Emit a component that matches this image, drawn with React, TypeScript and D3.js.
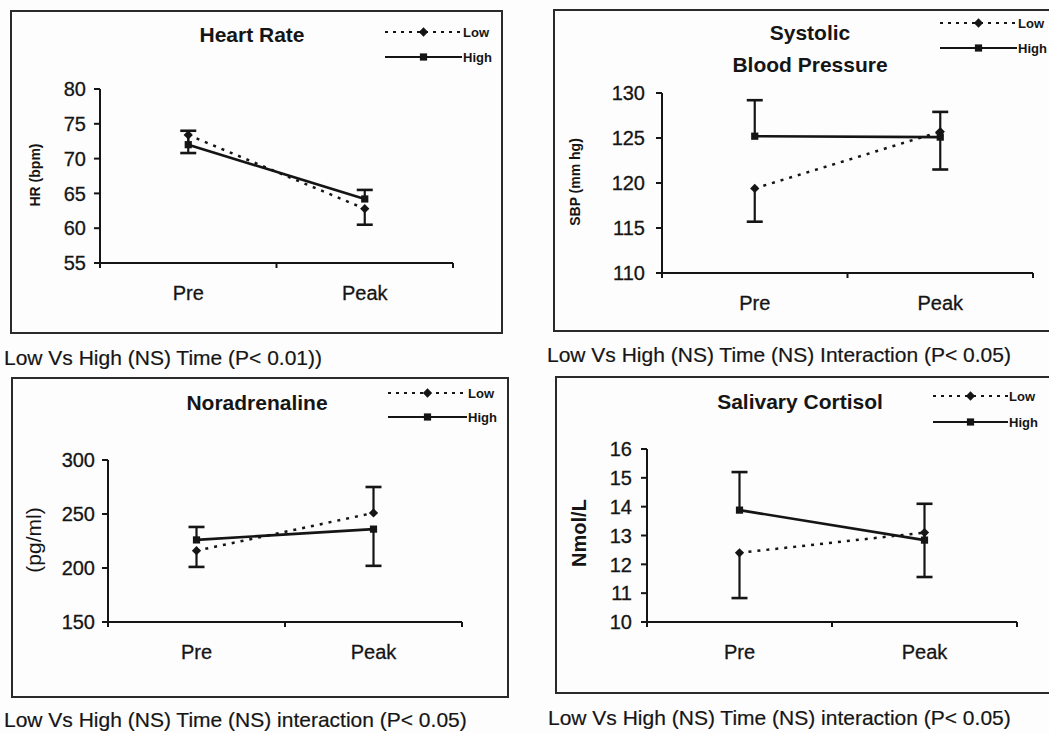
import * as d3 from "d3";
import React from "react";

const categories = ["Pre", "Peak"];

// Heart rate
const hrLow = [73.4, 62.8];
const hrHigh = [72.0, 64.2];
const hrLowErr = [-2.6, -2.3];
const hrHighErr = [2.0, 1.3];
const hrTicks = [55, 60, 65, 70, 75, 80];

// Systolic blood pressure
const sbpLow = [119.4, 125.7];
const sbpHigh = [125.2, 125.1];
const sbpLowErr = [-3.7, -4.2];
const sbpHighErr = [4.0, 2.8];
const sbpTicks = [110, 115, 120, 125, 130];

// Noradrenaline
const naLow = [216, 251];
const naHigh = [226, 236];
const naLowErr = [-15, 24];
const naHighErr = [12, -34];
const naTicks = [150, 200, 250, 300];

// Salivary cortisol
const cortLow = [12.4, 13.1];
const cortHigh = [13.88, 12.84];
const cortLowErr = [-1.57, -1.54];
const cortHighErr = [1.32, 1.26];
const cortTicks = [10, 11, 12, 13, 14, 15, 16];

const seriesNames = ["Low", "High"];

const FONT = "Arial, 'Liberation Sans', sans-serif";
const INK = "#151515";

type PanelProps = {
  box: [number, number, number, number];
  x0: number;
  x1: number;
  yTop: number;
  yBot: number;
  ticks: number[];
  low: number[];
  high: number[];
  lowErr: number[];
  highErr: number[];
  title: string[];
  titleX: number;
  titleY: number;
  titleGap?: number;
  legX0: number;
  legX1: number;
  legY: [number, number];
  yLabel: string;
  yLabelPos: [number, number];
  yLabelSize: number;
  yLabelBold: boolean;
  tickGap: number;
  note: string;
  notePos: [number, number];
};

function Panel(p: PanelProps) {
  const x = d3.scalePoint<string>().domain(categories).range([p.x0, p.x1]).padding(0.5);
  const y = d3
    .scaleLinear()
    .domain([p.ticks[0], p.ticks[p.ticks.length - 1]])
    .range([p.yBot, p.yTop]);

  const line = d3
    .line<number>()
    .x((_, i) => x(categories[i]) as number)
    .y((d) => y(d));

  const diamond = d3.symbol().type(d3.symbolDiamond2).size(55)();
  const square = d3.symbol().type(d3.symbolSquare).size(52)();
  const mid = (p.x0 + p.x1) / 2;
  const legMid = (p.legX0 + p.legX1) / 2;

  const errBars = (vals: number[], errs: number[], key: string) =>
    vals.map((v, i) => {
      const cx = x(categories[i]) as number;
      const ye = y(v + errs[i]);
      return (
        <g key={key + i} stroke={INK} strokeWidth={2.2}>
          <line x1={cx} x2={cx} y1={y(v)} y2={ye} />
          <line x1={cx - 8} x2={cx + 8} y1={ye} y2={ye} strokeWidth={2.6} />
        </g>
      );
    });

  return (
    <g fontFamily={FONT} fill={INK}>
      <rect
        x={p.box[0]}
        y={p.box[1]}
        width={p.box[2] - p.box[0]}
        height={p.box[3] - p.box[1]}
        fill="none"
        stroke="#2a2a2a"
        strokeWidth={2}
      />
      {p.title.map((t, i) => (
        <text
          key={t}
          x={p.titleX}
          y={p.titleY + i * (p.titleGap || 0)}
          textAnchor="middle"
          fontSize={21}
          fontWeight="bold"
        >
          {t}
        </text>
      ))}
      {/* legend */}
      <g>
        <line x1={p.legX0} x2={p.legX1} y1={p.legY[0]} y2={p.legY[0]} stroke={INK} strokeWidth={2} strokeDasharray="3,5" />
        <path d={diamond} transform={`translate(${legMid},${p.legY[0]})`} fill={INK} />
        <text x={p.legX1 + 1} y={p.legY[0]} dy="0.35em" fontSize={13} fontWeight="bold">
          {seriesNames[0]}
        </text>
        <line x1={p.legX0} x2={p.legX1} y1={p.legY[1]} y2={p.legY[1]} stroke={INK} strokeWidth={2} />
        <path d={square} transform={`translate(${legMid},${p.legY[1]})`} fill={INK} />
        <text x={p.legX1 + 1} y={p.legY[1]} dy="0.35em" fontSize={13} fontWeight="bold">
          {seriesNames[1]}
        </text>
      </g>
      {/* axes */}
      <g stroke={INK} strokeWidth={2}>
        <line x1={p.x0} x2={p.x0} y1={p.yTop} y2={p.yBot} />
        <line x1={p.x0} x2={p.x1} y1={p.yBot} y2={p.yBot} />
        {p.ticks.map((t) => (
          <line key={t} x1={p.x0 - 6} x2={p.x0} y1={y(t)} y2={y(t)} />
        ))}
        {[p.x0, mid, p.x1].map((t) => (
          <line key={t} x1={t} x2={t} y1={p.yBot} y2={p.yBot + 5} />
        ))}
      </g>
      {p.ticks.map((t) => (
        <text key={t} x={p.x0 - p.tickGap} y={y(t)} dy="0.36em" textAnchor="end" fontSize={20} stroke={INK} strokeWidth={0.3}>
          {t}
        </text>
      ))}
      {categories.map((c) => (
        <text key={c} x={x(c)} y={p.yBot + 37} textAnchor="middle" fontSize={20} stroke={INK} strokeWidth={0.3}>
          {c}
        </text>
      ))}
      <text
        transform={`translate(${p.yLabelPos[0]},${p.yLabelPos[1]}) rotate(-90)`}
        textAnchor="middle"
        dy="0.35em"
        fontSize={p.yLabelSize}
        fontWeight={p.yLabelBold ? "bold" : "normal"}
      >
        {p.yLabel}
      </text>
      {/* series */}
      <path d={line(p.low) || ""} fill="none" stroke={INK} strokeWidth={2.5} strokeDasharray="3,6" />
      <path d={line(p.high) || ""} fill="none" stroke={INK} strokeWidth={2.6} />
      {errBars(p.high, p.highErr, "h")}
      {errBars(p.low, p.lowErr, "l")}
      {p.low.map((v, i) => (
        <path key={"ld" + i} d={diamond} transform={`translate(${x(categories[i])},${y(v)})`} fill={INK} />
      ))}
      {p.high.map((v, i) => (
        <path key={"hs" + i} d={square} transform={`translate(${x(categories[i])},${y(v)})`} fill={INK} />
      ))}
      <text x={p.notePos[0]} y={p.notePos[1]} fontSize={21} stroke={INK} strokeWidth={0.2}>
        {p.note}
      </text>
    </g>
  );
}

export default function App() {
  return (
    <svg
      width={1049}
      height={733}
      style={{ position: "absolute", left: 0, top: 0, background: "#fdfdfd" }}
    >
      <Panel
        box={[11, 11, 502, 333]}
        x0={100}
        x1={453}
        yTop={89}
        yBot={263}
        ticks={hrTicks}
        low={hrLow}
        high={hrHigh}
        lowErr={hrLowErr}
        highErr={hrHighErr}
        title={["Heart Rate"]}
        titleX={252}
        titleY={42}
        legX0={385}
        legX1={462}
        legY={[32, 57]}
        yLabel="HR (bpm)"
        yLabelPos={[35, 175]}
        yLabelSize={14}
        yLabelBold={true}
        tickGap={14}
        note="Low Vs High (NS) Time (P< 0.01))"
        notePos={[4, 365]}
      />
      <Panel
        box={[554, 10, 1060, 331]}
        x0={662}
        x1={1033}
        yTop={93}
        yBot={273}
        ticks={sbpTicks}
        low={sbpLow}
        high={sbpHigh}
        lowErr={sbpLowErr}
        highErr={sbpHighErr}
        title={["Systolic", "Blood Pressure"]}
        titleX={810}
        titleY={40}
        titleGap={32}
        legX0={940}
        legX1={1017}
        legY={[23, 48]}
        yLabel="SBP (mm hg)"
        yLabelPos={[575, 182]}
        yLabelSize={14}
        yLabelBold={true}
        tickGap={17}
        note="Low Vs High (NS) Time (NS) Interaction (P< 0.05)"
        notePos={[547, 362]}
      />
      <Panel
        box={[12, 378, 508, 697]}
        x0={108}
        x1={462}
        yTop={460}
        yBot={622}
        ticks={naTicks}
        low={naLow}
        high={naHigh}
        lowErr={naLowErr}
        highErr={naHighErr}
        title={["Noradrenaline"]}
        titleX={257}
        titleY={410}
        legX0={388}
        legX1={467}
        legY={[393, 417]}
        yLabel="(pg/ml)"
        yLabelPos={[34, 540]}
        yLabelSize={21}
        yLabelBold={false}
        tickGap={13}
        note="Low Vs High (NS) Time (NS) interaction (P< 0.05)"
        notePos={[4, 727]}
      />
      <Panel
        box={[556, 377, 1060, 693]}
        x0={647}
        x1={1017}
        yTop={449}
        yBot={622}
        ticks={cortTicks}
        low={cortLow}
        high={cortHigh}
        lowErr={cortLowErr}
        highErr={cortHighErr}
        title={["Salivary Cortisol"]}
        titleX={800}
        titleY={409}
        legX0={933}
        legX1={1008}
        legY={[396, 422]}
        yLabel="Nmol/L"
        yLabelPos={[579, 533]}
        yLabelSize={20}
        yLabelBold={true}
        tickGap={15}
        note="Low Vs High (NS) Time (NS) interaction (P< 0.05)"
        notePos={[548, 725]}
      />
    </svg>
  );
}
